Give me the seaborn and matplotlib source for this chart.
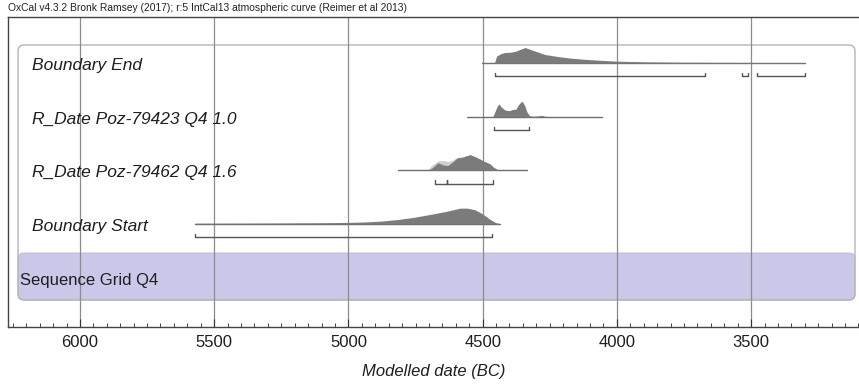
import numpy as np
import pandas as pd
import matplotlib
matplotlib.use("Agg")
import matplotlib.pyplot as plt
import seaborn as sns
from matplotlib.patches import FancyBboxPatch

# ---------------- data ----------------
ROW_LABELS = ["Boundary End", "R_Date Poz-79423 Q4 1.0", "R_Date Poz-79462 Q4 1.6", "Boundary Start"]
GROUP_LABEL = "Sequence Grid Q4"
TITLE = "OxCal v4.3.2 Bronk Ramsey (2017); r:5 IntCal13 atmospheric curve (Reimer et al 2013)"
XLABEL = "Modelled date (BC)"
XTICKS = [6000, 5500, 5000, 4500, 4000, 3500]

# baselines (extent of each probability line)
BASE_START = [4502, 4558, 4815, 5571]
BASE_END = [3299, 4055, 4334, 4435]

# posterior densities (relative, peak = 1)
END_YEARS = [4500, 4456, 4448, 4430, 4416, 4395, 4379, 4342, 4310, 4268, 4220, 4174, 4120, 4063, 4000, 3900, 3750, 3550, 3300]
END_DENS = [0.0, 0.0, 0.45, 0.62, 0.68, 0.70, 0.75, 1.0, 0.80, 0.55, 0.42, 0.32, 0.24, 0.18, 0.12, 0.08, 0.05, 0.04, 0.03]

P23_YEARS = [4462, 4452, 4445, 4439, 4430, 4416, 4400, 4390, 4376, 4365, 4353, 4343, 4335, 4325, 4310, 4290, 4279, 4268, 4250]
P23_DENS = [0.0, 0.40, 0.70, 0.81, 0.60, 0.42, 0.38, 0.45, 0.48, 0.80, 1.0, 0.70, 0.30, 0.05, 0.02, 0.05, 0.08, 0.02, 0.0]

P62_YEARS = [4705, 4690, 4666, 4645, 4629, 4610, 4595, 4577, 4547, 4530, 4517, 4495, 4472, 4460, 4446, 4440]
P62_DENS = [0.0, 0.12, 0.47, 0.32, 0.30, 0.55, 0.78, 0.82, 1.0, 0.88, 0.78, 0.58, 0.40, 0.20, 0.05, 0.0]
P62_LIK = [0.0, 0.30, 0.60, 0.62, 0.55, 0.66, 0.82, 0.86, 0.98, 0.86, 0.74, 0.55, 0.36, 0.18, 0.04, 0.0]

START_YEARS = [5571, 5400, 5255, 5100, 5005, 4940, 4882, 4820, 4759, 4700, 4633, 4584, 4558, 4530, 4510, 4490, 4472, 4450, 4435]
START_DENS = [0.03, 0.035, 0.045, 0.06, 0.08, 0.11, 0.16, 0.26, 0.40, 0.58, 0.80, 1.0, 1.0, 0.90, 0.73, 0.50, 0.27, 0.06, 0.0]

# 95.4% ranges (start, end)
RANGES = [
    [(4454, 3672), (3533, 3510), (3477, 3299)],
    [(4457, 4326)],
    [(4677, 4633), (4633, 4461)],
    [(5571, 4465)],
]

DENSITIES = [(END_YEARS, END_DENS), (P23_YEARS, P23_DENS), (P62_YEARS, P62_DENS), (START_YEARS, START_DENS)]

# ---------------- style ----------------
sns.set_theme(style="white")
plt.rcParams["font.family"] = ["Liberation Sans", "DejaVu Sans"]

W, H = 859, 389
fig = plt.figure(figsize=(W / 100, H / 100), dpi=100)
ax = fig.add_axes([8 / W, 62 / H, 851 / W, 310 / H])

PEAK = 0.29
FILL = "#7b7b7b"
LINE = "#6e6e6e"

# group box and band
aspect = 851 / 310
box = FancyBboxPatch((0.0118, 0.0871), 0.9953 - 0.0118, 0.9097 - 0.0871,
                     boxstyle="round,pad=0,rounding_size=0.007", mutation_aspect=aspect,
                     transform=ax.transAxes, facecolor="none", edgecolor="#b5b5b5",
                     linewidth=1.0, zorder=0.6)
band = FancyBboxPatch((0.0118, 0.0871), 0.9953 - 0.0118, 0.2387 - 0.0871,
                      boxstyle="round,pad=0,rounding_size=0.007", mutation_aspect=aspect,
                      transform=ax.transAxes, facecolor="#cac8e8", edgecolor="#c2c0e0",
                      linewidth=0.8, zorder=0.5)
ax.add_patch(band)
ax.add_patch(box)

# baselines via seaborn
base_df = pd.DataFrame({
    "year": BASE_START + BASE_END,
    "row": list(range(4)) * 2,
    "id": list(range(4)) * 2,
})
sns.lineplot(data=base_df, x="year", y="row", units="id", estimator=None,
             color=LINE, linewidth=1.0, ax=ax, legend=False, sort=False)

# light likelihood for Poz-79462
ax.fill_between(P62_YEARS, 2, 2 - PEAK * np.array(P62_LIK), color="#cfcfcf", linewidth=0, zorder=1.8)

# posterior fills
for i, (yrs, dens) in enumerate(DENSITIES):
    ax.fill_between(yrs, i, i - PEAK * np.array(dens), color=FILL, linewidth=0, zorder=2)

# range bars
for i, rngs in enumerate(RANGES):
    yb = i + 0.25
    for a, b in rngs:
        ax.plot([a, b], [yb, yb], color="#555555", lw=1.0, zorder=2.5)
        for e in (a, b):
            ax.plot([e, e], [yb, yb - 0.06], color="#555555", lw=1.0, zorder=2.5)

# labels
for i, lab in enumerate(ROW_LABELS):
    ax.text(0.028, i + 0.05, lab, transform=ax.get_yaxis_transform(), fontsize=12.5, style="italic",
            color="#1e1e1e", va="center", ha="left", zorder=3)
ax.text(0.014, 4.06, GROUP_LABEL, transform=ax.get_yaxis_transform(), fontsize=12,
        color="#1e1e1e", va="center", ha="left", zorder=3)

# axes
ax.set_xlim(6268, 3098)
ax.set_ylim(4.93, -0.86)
ax.set_yticks([])
ax.set_ylabel("")
ax.set_xticks(XTICKS)
ax.set_xticklabels([str(t) for t in XTICKS])
ax.set_xticks(np.arange(3100, 6300, 50), minor=True)
ax.tick_params(axis="x", which="major", direction="in", length=6, width=0.8, color="#333333",
               labelsize=12, pad=6, labelcolor="#1e1e1e", bottom=True)
ax.tick_params(axis="x", which="minor", direction="in", length=3, width=0.7, color="#444444", bottom=True)
ax.grid(axis="x", which="major", color="#8c8c8c", linewidth=0.9)
ax.set_axisbelow("line")
ax.set_xlabel(XLABEL, fontsize=12, style="italic", labelpad=10, color="#1e1e1e")
for s in ["top", "left", "bottom"]:
    ax.spines[s].set_visible(True)
    ax.spines[s].set_color("#444444")
    ax.spines[s].set_linewidth(1.0)
ax.spines["right"].set_visible(False)

fig.text(8 / W, 1 - 8 / H, TITLE, fontsize=7.4, va="center", ha="left", color="#222222")

fig.savefig("out.png", dpi=100)
